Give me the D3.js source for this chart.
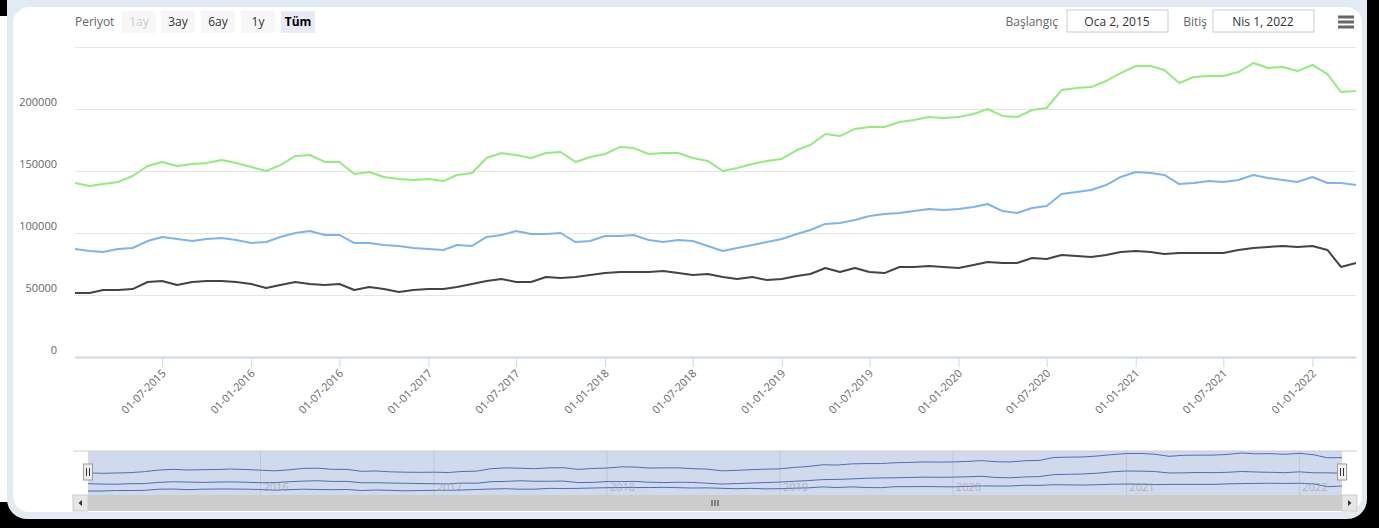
<!DOCTYPE html>
<html>
<head>
<meta charset="utf-8">
<script src="https://cdn.jsdelivr.net/npm/d3@7"></script>
<style>
  body { margin: 0; background: #000; overflow: hidden; }
  text { font-family: "Open Sans", sans-serif; }
</style>
</head>
<body>
<div id="container"></div>
<script>
// Monthly dates, first point is Jan 2 2015, last is Apr 1 2022
const dates = d3.timeMonth.range(new Date(2015, 0, 1), new Date(2022, 3, 2));
dates[0] = new Date(2015, 0, 2);

// Series values (one per month)
const seriesBlue = [
  87100, 85500, 84700, 87100, 87900, 93500, 96800, 95200, 93500, 95200, 96000, 94400,
  91900, 92700, 96800, 100000, 101600, 98400, 98400, 91900, 91900, 90300, 89500, 87900,
  87100, 86300, 90300, 89500, 96800, 98400, 101600, 99200, 99200, 100000, 92700, 93500,
  97600, 97600, 98400, 94400, 92700, 94400, 93500, 89500, 85500, 87900, 90300, 92700,
  95200, 99200, 102400, 107300, 108100, 110500, 113700, 115300, 116100, 117700, 119400, 118500,
  119400, 121000, 123400, 117700, 116100, 120200, 121800, 131500, 133100, 134700, 138700, 145200,
  149200, 148400, 146800, 139500, 140300, 141900, 141100, 142700, 146800, 144400, 142700, 141100,
  145200, 140300, 140300, 138700
];
const seriesBlack = [
  51600, 51600, 54000, 54000, 54800, 60500, 61300, 58100, 60500, 61300, 61300, 60500,
  58900, 55600, 58100, 60500, 58900, 58100, 58900, 54000, 56500, 54800, 52400, 54000,
  54800, 54800, 56500, 58900, 61300, 62900, 60500, 60500, 64500, 63700, 64500, 66100,
  67700, 68500, 68500, 68500, 69400, 67700, 66100, 66900, 64500, 62900, 64500, 62100,
  62900, 65300, 66900, 71800, 68500, 71800, 68500, 67700, 72600, 72600, 73400, 72600,
  71800, 74200, 76600, 75800, 75800, 79800, 79000, 82300, 81500, 80600, 82300, 84700,
  85500, 84700, 83100, 83900, 83900, 83900, 83900, 86300, 87900, 88700, 89500, 88700,
  89500, 86300, 72600, 75800
];
const seriesGreen = [
  140300, 137900, 139500, 141100, 146000, 154000, 157300, 154000, 155600, 156500, 158900, 156500,
  153200, 150000, 154800, 162100, 162900, 157300, 157300, 147600, 149200, 145200, 143500, 142700,
  143500, 141900, 146800, 148400, 160500, 164500, 162900, 160500, 164500, 165300, 157300, 161300,
  163700, 169400, 168500, 163700, 164500, 164500, 160500, 158100, 150000, 152400, 155600, 158100,
  159700, 166900, 171000, 179800, 178200, 183900, 185500, 185500, 189500, 191100, 193500, 192700,
  193500, 196000, 200000, 194400, 193500, 199200, 200800, 215300, 216900, 217700, 222600, 229000,
  234700, 234700, 231500, 221000, 225800, 226600, 226600, 229800, 237100, 233100, 233900, 230600,
  235500, 228200, 213700, 214500
];

const seriesColors = ["#7cb5ec", "#434348", "#90ed7d"];
const yTicks = [0, 50000, 100000, 150000, 200000, 250000];
const xTicks = d3.timeMonth.every(6).range(new Date(2015, 6, 1), new Date(2022, 0, 2));
const navYears = d3.timeYear.range(new Date(2016, 0, 1), new Date(2022, 0, 2));
const periodButtons = ["1ay", "3ay", "6ay", "1y", "Tüm"];

const W = 1379, H = 528;
const svg = d3.create("svg").attr("width", W).attr("height", H);

// Window frame
svg.append("rect").attr("width", W).attr("height", H).attr("fill", "#000");
svg.append("rect").attr("x", 0).attr("y", 16).attr("width", 8).attr("height", 486).attr("fill", "#fff");
svg.append("rect").attr("x", 7).attr("y", -20).attr("width", 1360).attr("height", 539)
  .attr("rx", 20).attr("fill", "#e2eaf3");
svg.append("rect").attr("x", 13).attr("y", 7).attr("width", 1349).attr("height", 505)
  .attr("rx", 16).attr("fill", "#fff");

// Scales
const x = d3.scaleTime().domain([dates[0], dates[dates.length - 1]]).range([75, 1356]);
const y = d3.scaleLinear().domain([0, 250000]).range([357, 47]);

// Y grid + labels
const yAxis = svg.append("g").attr("transform", "translate(75,0)")
  .call(d3.axisLeft(y).tickValues(yTicks).tickSize(-1281).tickPadding(18)
    .tickFormat(d => d === 250000 ? "" : d3.format("d")(d)));
yAxis.select(".domain").remove();
yAxis.selectAll(".tick line").attr("stroke", "#e6e6e6");
yAxis.selectAll(".tick text").attr("fill", "#666").attr("font-size", 11)
  .attr("y", -7);

// X axis
const xAxis = svg.append("g").attr("transform", "translate(0,357)")
  .call(d3.axisBottom(x).tickValues(xTicks).tickSizeInner(10).tickSizeOuter(0)
    .tickFormat(d3.timeFormat("%d-%m-%Y")));
xAxis.select(".domain").attr("stroke", "#ccd6eb").attr("stroke-width", 2);
xAxis.selectAll(".tick line").attr("stroke", "#ccd6eb");
xAxis.selectAll(".tick text")
  .attr("fill", "#666").attr("font-size", 11)
  .attr("text-anchor", "end")
  .attr("dy", 0).attr("y", 0)
  .attr("transform", "translate(4,17) rotate(-45)");

// Series lines
const allSeries = [seriesBlue, seriesBlack, seriesGreen];
const line = d3.line().x((d, i) => x(dates[i])).y(d => y(d));
allSeries.forEach((s, k) => {
  svg.append("path").attr("d", line(s)).attr("fill", "none")
    .attr("stroke", seriesColors[k]).attr("stroke-width", 2).attr("stroke-linejoin", "round");
});

// Range selector
svg.append("text").attr("x", 75).attr("y", 26).attr("font-size", 12).attr("fill", "#666").text("Periyot");
const btnX = [122, 161, 201, 241, 281];
periodButtons.forEach((b, i) => {
  const sel = b === "Tüm";
  svg.append("rect").attr("x", btnX[i]).attr("y", 11).attr("width", 34).attr("height", 22)
    .attr("fill", sel ? "#e6ebf5" : "#f7f7f7");
  svg.append("text").attr("x", btnX[i] + 17).attr("y", 26).attr("text-anchor", "middle")
    .attr("font-size", 12).attr("font-weight", sel ? "bold" : "normal")
    .attr("fill", i === 0 ? "#cccccc" : (sel ? "#000" : "#333")).text(b);
});

// Date inputs
svg.append("text").attr("x", 1058).attr("y", 26).attr("text-anchor", "end").attr("font-size", 12)
  .attr("fill", "#666").text("Başlangıç");
svg.append("rect").attr("x", 1067).attr("y", 10).attr("width", 101).attr("height", 22)
  .attr("fill", "#fff").attr("stroke", "#cccccc");
svg.append("text").attr("x", 1117).attr("y", 26).attr("text-anchor", "middle").attr("font-size", 12)
  .attr("fill", "#333").text("Oca 2, 2015");
svg.append("text").attr("x", 1207).attr("y", 26).attr("text-anchor", "end").attr("font-size", 12)
  .attr("fill", "#666").text("Bitiş");
svg.append("rect").attr("x", 1213).attr("y", 10).attr("width", 101).attr("height", 22)
  .attr("fill", "#fff").attr("stroke", "#cccccc");
svg.append("text").attr("x", 1263).attr("y", 26).attr("text-anchor", "middle").attr("font-size", 12)
  .attr("fill", "#333").text("Nis 1, 2022");
[17, 22, 27].forEach(yy => {
  svg.append("line").attr("x1", 1338).attr("x2", 1354).attr("y1", yy).attr("y2", yy)
    .attr("stroke", "#666").attr("stroke-width", 3);
});

// Navigator
const xn = d3.scaleTime().domain(x.domain()).range([88, 1342]);
const yn = d3.scaleLinear()
  .domain([d3.min(allSeries.flat()), d3.max(allSeries.flat())]).range([491, 453]);
const nav = svg.append("g");
nav.selectAll(".ygrid").data(navYears).enter().append("line")
  .attr("x1", d => xn(d)).attr("x2", d => xn(d)).attr("y1", 451).attr("y2", 495)
  .attr("stroke", "#e6e6e6");
nav.append("rect").attr("x", 88).attr("y", 451).attr("width", 1254).attr("height", 44)
  .attr("fill", "rgba(102,133,194,0.3)");
const navLine = d3.line().x((d, i) => xn(dates[i])).y(d => yn(d));
allSeries.forEach(s => {
  nav.append("path").attr("d", navLine(s)).attr("fill", "none")
    .attr("stroke", "#335cad").attr("stroke-width", 1).attr("opacity", 0.85);
});
nav.selectAll(".ylab").data(navYears).enter().append("text")
  .attr("x", d => xn(d) + 3).attr("y", 491).attr("font-size", 11)
  .attr("fill", "#999").attr("opacity", 0.6).text(d3.timeFormat("%Y"));
nav.append("line").attr("x1", 73).attr("x2", 1357).attr("y1", 451).attr("y2", 451).attr("stroke", "#cccccc");

// Scrollbar
nav.append("rect").attr("x", 73).attr("y", 495).attr("width", 1284).attr("height", 16).attr("fill", "#f2f2f2");
nav.append("rect").attr("x", 88).attr("y", 495).attr("width", 1254).attr("height", 16).attr("fill", "#cccccc");
[73, 1342].forEach((bx, i) => {
  nav.append("rect").attr("x", bx).attr("y", 495).attr("width", 15).attr("height", 16)
    .attr("fill", "#e6e6e6").attr("stroke", "#cccccc");
  const cx = bx + 7.5, cy = 503;
  nav.append("path").attr("fill", "#333")
    .attr("d", i === 0 ? `M${cx + 1.5},${cy - 3}L${cx - 2},${cy}L${cx + 1.5},${cy + 3}Z`
                       : `M${cx - 1.5},${cy - 3}L${cx + 2},${cy}L${cx - 1.5},${cy + 3}Z`);
});
[-3, 0, 3].forEach(dx => {
  nav.append("line").attr("x1", 715 + dx).attr("x2", 715 + dx).attr("y1", 500).attr("y2", 506)
    .attr("stroke", "#333");
});

// Handles
[88, 1342].forEach(hx => {
  nav.append("rect").attr("x", hx - 4.5).attr("y", 464).attr("width", 9).attr("height", 16)
    .attr("fill", "#f2f2f2").attr("stroke", "#999");
  [-1.5, 1.5].forEach(dx => {
    nav.append("line").attr("x1", hx + dx).attr("x2", hx + dx).attr("y1", 468).attr("y2", 476)
      .attr("stroke", "#333");
  });
});

document.getElementById("container").append(svg.node());
</script>
</body>
</html>
